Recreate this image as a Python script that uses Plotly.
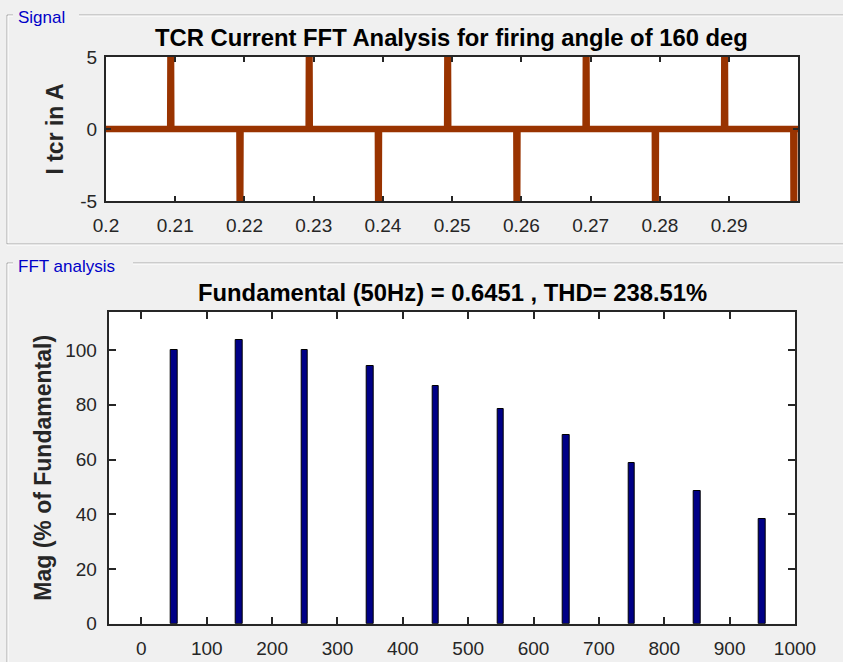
import plotly.graph_objects as go

# ---------------- data ----------------
# TCR current signal (time in s, current in A) - key points of the waveform
time_s = [0.2,
          0.20927, 0.20931, 0.20939, 0.20943,
          0.21927, 0.21931, 0.21939, 0.21943,
          0.22927, 0.22931, 0.22939, 0.22943,
          0.23927, 0.23931, 0.23939, 0.23943,
          0.24927, 0.24931, 0.24939, 0.24943,
          0.25927, 0.25931, 0.25939, 0.25943,
          0.26927, 0.26931, 0.26939, 0.26943,
          0.27927, 0.27931, 0.27939, 0.27943,
          0.28927, 0.28931, 0.28939, 0.28943,
          0.29927, 0.29931, 0.29939, 0.29943,
          0.29995]
current_a = [0.0,
             0.0, 5.6, 5.6, 0.0,
             0.0, -5.6, -5.6, 0.0,
             0.0, 5.6, 5.6, 0.0,
             0.0, -5.6, -5.6, 0.0,
             0.0, 5.6, 5.6, 0.0,
             0.0, -5.6, -5.6, 0.0,
             0.0, 5.6, 5.6, 0.0,
             0.0, -5.6, -5.6, 0.0,
             0.0, 5.6, 5.6, 0.0,
             0.0, -5.6, -5.6, 0.0,
             0.0]

# FFT harmonic spectrum (frequency in Hz, magnitude in % of fundamental)
freq_hz = [50, 150, 250, 350, 450, 550, 650, 750, 850, 950]
mag_pct = [100.0, 103.6, 99.9, 94.0, 86.8, 78.3, 68.8, 58.8, 48.5, 38.4]

x_ticks_top = [0.2, 0.21, 0.22, 0.23, 0.24, 0.25, 0.26, 0.27, 0.28, 0.29]
x_tick_labels_top = ["0.2", "0.21", "0.22", "0.23", "0.24", "0.25", "0.26", "0.27", "0.28", "0.29"]
y_ticks_top = [-5, 0, 5]
y_tick_labels_top = ["-5", "0", "5"]
x_ticks_bot = [0, 100, 200, 300, 400, 500, 600, 700, 800, 900, 1000]
y_ticks_bot = [0, 20, 40, 60, 80, 100]

title_top = "TCR Current FFT Analysis for firing angle of 160 deg"
title_bot = "Fundamental (50Hz) = 0.6451 , THD= 238.51%"

# ---------------- layout helpers ----------------
W, H = 843, 662
def px(x):
    return x / W
def py(y):
    return 1 - y / H

FONT = "Liberation Sans, Arial, Helvetica, sans-serif"
AX = "#262626"

fig = go.Figure()

fig.add_trace(go.Scatter(
    x=time_s, y=current_a, mode="lines",
    line=dict(color="#993300", width=6.5),
    xaxis="x", yaxis="y", showlegend=False, hoverinfo="skip"))

fig.add_trace(go.Bar(
    x=freq_hz, y=mag_pct, width=10,
    marker=dict(color="#000086", line=dict(color="black", width=1)),
    xaxis="x2", yaxis="y2", showlegend=False))

axis_common = dict(showline=True, linecolor=AX, linewidth=2, mirror="ticks",
                   ticks="inside", tickcolor=AX, tickwidth=1.5,
                   showgrid=False, zeroline=False, automargin=False,
                   tickfont=dict(family=FONT, size=19, color=AX))

fig.update_layout(
    width=W, height=H,
    margin=dict(l=0, r=0, t=0, b=0, autoexpand=False),
    paper_bgcolor="#f0f0f0", plot_bgcolor="white",
    bargap=0,
    xaxis=dict(domain=[px(106), px(798)], anchor="y", range=[0.2, 0.29995],
               tickvals=x_ticks_top, ticktext=x_tick_labels_top, ticklen=5,
               ticklabelstandoff=6, **axis_common),
    yaxis=dict(domain=[py(201), py(57)], anchor="x", range=[-5, 5],
               tickvals=y_ticks_top, ticktext=y_tick_labels_top, ticklen=5,
               ticklabelstandoff=3,
               title=dict(text="I tcr in A", standoff=10,
                          font=dict(family=FONT, size=23, color=AX, weight="bold")),
               **axis_common),
    xaxis2=dict(domain=[px(108.7), px(795)], anchor="y2", range=[-50, 1000],
                tickvals=x_ticks_bot, ticklen=7, ticklabelstandoff=6, **axis_common),
    yaxis2=dict(domain=[py(623.7), py(312)], anchor="x2", range=[0, 113.9],
                tickvals=y_ticks_bot, ticklen=7, ticklabelstandoff=6,
                title=dict(text="Mag (% of Fundamental)", standoff=7,
                           font=dict(family=FONT, size=23, color=AX, weight="bold")),
                **axis_common),
)

# ---------------- panel frames ----------------
shapes = []
def seg(x0, y0, x1, y1, color):
    shapes.append(dict(type="line", xref="paper", yref="paper",
                       x0=px(x0), y0=py(y0), x1=px(x1), y1=py(y1),
                       line=dict(color=color, width=1), layer="below"))

GREY, WHITE = "#a8a8a8", "#ffffff"
# Signal panel
seg(7, 15, 13, 15, GREY); seg(79, 15, 843, 15, GREY)
seg(8, 16, 13, 16, WHITE); seg(79, 16, 843, 16, WHITE)
seg(7, 15, 7, 244, GREY); seg(8, 16, 8, 243, WHITE)
seg(7, 244, 843, 244, GREY); seg(7, 245, 843, 245, WHITE)
# FFT panel
seg(7, 263, 13, 263, GREY); seg(133, 263, 843, 263, GREY)
seg(8, 264, 13, 264, WHITE); seg(133, 264, 843, 264, WHITE)
seg(7, 263, 7, 662, GREY); seg(8, 264, 8, 662, WHITE)
fig.update_layout(shapes=shapes)

annotations = [
    dict(text="Signal", x=px(16), y=py(18), xref="paper", yref="paper",
         xanchor="left", yanchor="middle", showarrow=False,
         font=dict(family=FONT, size=17, color="#0000C8")),
    dict(text="FFT analysis", x=px(16), y=py(266), xref="paper", yref="paper",
         xanchor="left", yanchor="middle", showarrow=False,
         font=dict(family=FONT, size=17, color="#0000C8")),
    dict(text=title_top, x=px(451), y=py(38), xref="paper", yref="paper",
         xanchor="center", yanchor="middle", showarrow=False,
         font=dict(family=FONT, size=23.8, color="black", weight="bold")),
    dict(text=title_bot, x=px(452), y=py(293), xref="paper", yref="paper",
         xanchor="center", yanchor="middle", showarrow=False,
         font=dict(family=FONT, size=23.8, color="black", weight="bold")),
]
fig.update_layout(annotations=annotations)

fig.write_html("out.html")
